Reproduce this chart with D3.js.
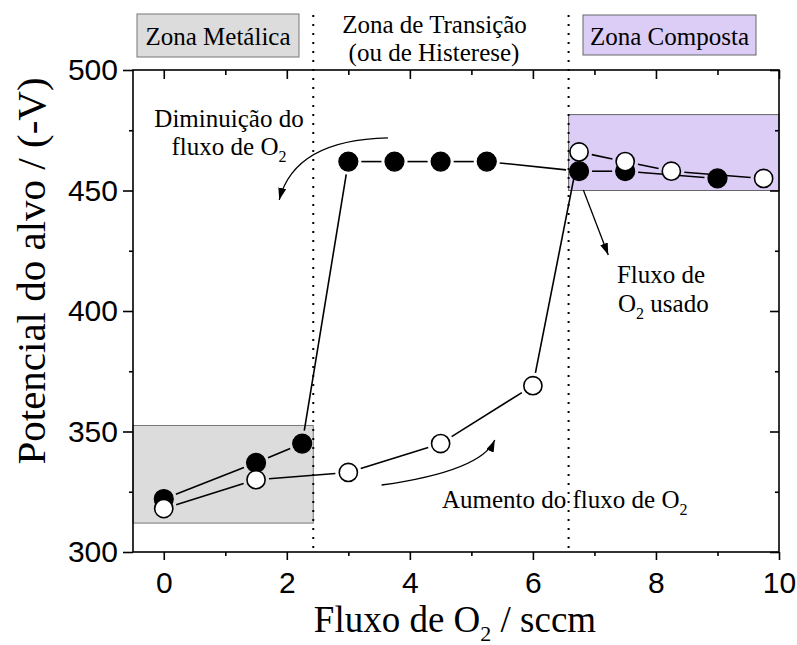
<!DOCTYPE html>
<html>
<head>
<meta charset="utf-8">
<script src="https://cdn.jsdelivr.net/npm/d3@7"></script>
<style>
  html, body { margin: 0; padding: 0; background: #fff; }
  svg { display: block; }
</style>
</head>
<body>
<svg id="chart" width="797" height="645"></svg>
<script>
// O2 flow (sccm) and target potential (-V) while decreasing the flow
const flowDown = [0, 1.5, 2.25, 3, 3.75, 4.5, 5.25, 6.75, 7.5, 9];
const potDown  = [322, 337, 345, 462, 462, 462, 462, 458, 458, 455];
// ... and while increasing the flow
const flowUp = [0, 1.5, 3, 4.5, 6, 6.75, 7.5, 8.25, 9.75];
const potUp  = [318, 330, 333, 345, 369, 466, 462, 458, 455];

// axis ticks
const xMajor = [0, 2, 4, 6, 8, 10];
const xMinor = [1, 3, 5, 7, 9];
const yMajor = [300, 350, 400, 450, 500];
const yMinor = [325, 375, 425, 475];

// zone limits (flow) and highlighted regions
const zoneLimits = [2.43, 6.58];
const metalBox = { x: [-0.5, 2.43], y: [312, 352.5] };
const compoundBox = { x: [6.58, 10], y: [450, 481.5] };

const W = 797, H = 645;
const plot = { left: 133, right: 779, top: 70, bottom: 552 };
const serif = "'Liberation Serif', 'Times New Roman', serif";
const sans = "'Liberation Sans', Arial, sans-serif";

const svg = d3.select("#chart");
svg.append("rect").attr("width", W).attr("height", H).attr("fill", "#fff");

const x = d3.scaleLinear().domain([-0.5, 10]).range([plot.left, plot.right]);
const y = d3.scaleLinear().domain([300, 500]).range([plot.bottom, plot.top]);

// arrowhead
svg.append("defs").append("marker")
  .attr("id", "head")
  .attr("markerUnits", "userSpaceOnUse")
  .attr("markerWidth", 13).attr("markerHeight", 8)
  .attr("refX", 12).attr("refY", 4)
  .attr("orient", "auto")
  .append("path").attr("d", "M0,0 L12,4 L0,8 Z").attr("fill", "#000");

// shaded regions
svg.append("rect")
  .attr("x", x(metalBox.x[0])).attr("y", y(metalBox.y[1]))
  .attr("width", x(metalBox.x[1]) - x(metalBox.x[0]))
  .attr("height", y(metalBox.y[0]) - y(metalBox.y[1]))
  .attr("fill", "#dcdcdc").attr("stroke", "#777").attr("stroke-width", 1);
svg.append("rect")
  .attr("x", x(compoundBox.x[0])).attr("y", y(compoundBox.y[1]))
  .attr("width", x(compoundBox.x[1]) - x(compoundBox.x[0]))
  .attr("height", y(compoundBox.y[0]) - y(compoundBox.y[1]))
  .attr("fill", "#dccdf7").attr("stroke", "#666").attr("stroke-width", 1);

// zone separators
svg.selectAll("line.zone").data(zoneLimits).join("line")
  .attr("class", "zone")
  .attr("x1", d => x(d)).attr("x2", d => x(d))
  .attr("y1", 15).attr("y2", plot.bottom)
  .attr("stroke", "#000").attr("stroke-width", 2)
  .attr("stroke-dasharray", "2,7");

// connecting lines, interrupted around the markers
const R = 9.5, GAP = 3.5;
function gapSegments(xs, ys) {
  const segs = [];
  for (let i = 0; i < xs.length - 1; i++) {
    const x1 = x(xs[i]), y1 = y(ys[i]), x2 = x(xs[i + 1]), y2 = y(ys[i + 1]);
    const dx = x2 - x1, dy = y2 - y1, len = Math.hypot(dx, dy);
    const cut = R + GAP;
    if (len <= 2 * cut) continue;
    const ux = dx / len, uy = dy / len;
    segs.push([x1 + ux * cut, y1 + uy * cut, x2 - ux * cut, y2 - uy * cut]);
  }
  return segs;
}
const lines = svg.append("g").attr("stroke", "#000").attr("stroke-width", 1.6);
lines.selectAll("line.dn").data(gapSegments(flowDown, potDown)).join("line")
  .attr("class", "dn")
  .attr("x1", d => d[0]).attr("y1", d => d[1]).attr("x2", d => d[2]).attr("y2", d => d[3]);
lines.selectAll("line.up").data(gapSegments(flowUp, potUp)).join("line")
  .attr("class", "up")
  .attr("x1", d => d[0]).attr("y1", d => d[1]).attr("x2", d => d[2]).attr("y2", d => d[3]);

// markers: filled = decreasing flow, open = increasing flow
svg.append("g").selectAll("circle").data(d3.zip(flowDown, potDown)).join("circle")
  .attr("cx", d => x(d[0])).attr("cy", d => y(d[1])).attr("r", R)
  .attr("fill", "#000").attr("stroke", "#000").attr("stroke-width", 1.2);
svg.append("g").selectAll("circle").data(d3.zip(flowUp, potUp)).join("circle")
  .attr("cx", d => x(d[0])).attr("cy", d => y(d[1])).attr("r", R - 0.4)
  .attr("fill", "#fff").attr("stroke", "#000").attr("stroke-width", 1.6);

// frame
svg.append("rect")
  .attr("x", plot.left).attr("y", plot.top)
  .attr("width", plot.right - plot.left).attr("height", plot.bottom - plot.top)
  .attr("fill", "none").attr("stroke", "#000").attr("stroke-width", 1.6);

function styleAxis(g) {
  g.select(".domain").remove();
  g.selectAll(".tick line").attr("stroke", "#000").attr("stroke-width", 1.6);
  g.selectAll("text").attr("font-family", sans).attr("font-size", 30).attr("fill", "#000");
}
// bottom
svg.append("g").attr("transform", `translate(0,${plot.bottom})`)
  .call(d3.axisBottom(x).tickValues(xMajor).tickSize(8).tickPadding(12).tickFormat(d3.format("d")))
  .call(styleAxis);
svg.append("g").attr("transform", `translate(0,${plot.bottom})`)
  .call(d3.axisBottom(x).tickValues(xMinor).tickSize(4).tickFormat(""))
  .call(styleAxis);
// top (inward)
svg.append("g").attr("transform", `translate(0,${plot.top})`)
  .call(d3.axisTop(x).tickValues(xMajor).tickSize(-9).tickFormat(""))
  .call(styleAxis);
svg.append("g").attr("transform", `translate(0,${plot.top})`)
  .call(d3.axisTop(x).tickValues(xMinor).tickSize(-5).tickFormat(""))
  .call(styleAxis);
// left
svg.append("g").attr("transform", `translate(${plot.left},0)`)
  .call(d3.axisLeft(y).tickValues(yMajor).tickSize(10).tickPadding(5).tickFormat(d3.format("d")))
  .call(styleAxis);
svg.append("g").attr("transform", `translate(${plot.left},0)`)
  .call(d3.axisLeft(y).tickValues(yMinor).tickSize(4).tickFormat(""))
  .call(styleAxis);
// right (inward)
svg.append("g").attr("transform", `translate(${plot.right},0)`)
  .call(d3.axisRight(y).tickValues(yMajor).tickSize(-9).tickFormat(""))
  .call(styleAxis);
svg.append("g").attr("transform", `translate(${plot.right},0)`)
  .call(d3.axisRight(y).tickValues(yMinor).tickSize(-4).tickFormat(""))
  .call(styleAxis);

// axis titles
const xt = svg.append("text")
  .attr("x", 455).attr("y", 632)
  .attr("text-anchor", "middle")
  .attr("font-family", serif).attr("font-size", 37).attr("fill", "#000");
xt.append("tspan").text("Fluxo de O");
xt.append("tspan").attr("font-size", 22).attr("dy", 9).text("2");
xt.append("tspan").attr("dy", -9).text(" / sccm");

svg.append("text")
  .attr("transform", "translate(45,271) rotate(-90)")
  .attr("text-anchor", "middle")
  .attr("font-family", serif).attr("font-size", 41).attr("fill", "#000")
  .text("Potencial do alvo / (-V)");

// zone headers
svg.append("rect").attr("x", 137).attr("y", 14).attr("width", 162).attr("height", 43)
  .attr("fill", "#dcdcdc").attr("stroke", "#777").attr("stroke-width", 1);
svg.append("rect").attr("x", 583).attr("y", 15).attr("width", 173).attr("height", 40)
  .attr("fill", "#dccdf7").attr("stroke", "#666").attr("stroke-width", 1);

const label = (tx, ty, txt) => svg.append("text")
  .attr("x", tx).attr("y", ty).attr("text-anchor", "middle")
  .attr("font-family", serif).attr("font-size", 25).attr("fill", "#000").text(txt);

label(218, 45, "Zona Metálica");
label(669.5, 45, "Zona Composta");
label(434.5, 33, "Zona de Transição");
label(434, 61, "(ou de Histerese)");

// annotations
label(229, 127, "Diminuição do");
const f1 = label(229, 155, "fluxo de O");
f1.append("tspan").attr("font-size", 16).attr("dy", 7).text("2");

const a1 = svg.append("text")
  .attr("x", 442).attr("y", 508)
  .attr("font-family", serif).attr("font-size", 25).attr("fill", "#000");
a1.append("tspan").text("Aumento do fluxo de O");
a1.append("tspan").attr("font-size", 16).attr("dy", 7).text("2");

label(661, 283, "Fluxo de");
const f2 = svg.append("text")
  .attr("x", 618).attr("y", 312)
  .attr("font-family", serif).attr("font-size", 25).attr("fill", "#000");
f2.append("tspan").text("O");
f2.append("tspan").attr("font-size", 16).attr("dy", 7).text("2");
f2.append("tspan").attr("dy", -7).text(" usado");

// arrows (defined in data units)
const arrows = [
  [[3.644, 471.8], [2.13, 471.0], [1.877, 446.1]],
  [[3.54, 327.8], [5.16, 333.6], [5.38, 346.5]],
  [[6.82, 450.2], null, [7.225, 423.2]]
];
arrows.forEach(([s, c, e]) => {
  const p = d3.path();
  p.moveTo(x(s[0]), y(s[1]));
  if (c) p.quadraticCurveTo(x(c[0]), y(c[1]), x(e[0]), y(e[1]));
  else p.lineTo(x(e[0]), y(e[1]));
  svg.append("path").attr("d", p.toString())
    .attr("fill", "none").attr("stroke", "#000").attr("stroke-width", 1.3)
    .attr("marker-end", "url(#head)");
});
</script>
</body>
</html>
